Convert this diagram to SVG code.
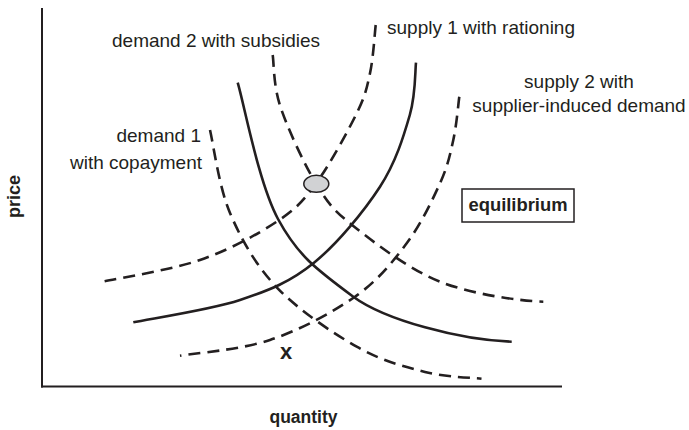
<svg xmlns="http://www.w3.org/2000/svg" width="689" height="430" viewBox="0 0 689 430">
<style>
.axis{stroke:#231f20;stroke-width:2;fill:none}
.curve{stroke:#231f20;stroke-width:2.6;fill:none;stroke-linecap:butt}
.dash{stroke-dasharray:12 7}
.lbl{font-family:"Liberation Sans",Arial,sans-serif;font-size:19px;fill:#231f20}
.bold{font-family:"Liberation Sans",Arial,sans-serif;font-weight:bold;fill:#231f20}
</style>
<rect width="689" height="430" fill="#ffffff"/>
<g id="axes">
<line class="axis" x1="42" y1="8" x2="42" y2="387.5"/>
<line class="axis" x1="41" y1="386.5" x2="562" y2="386.5"/>
<text class="bold" font-size="18" transform="translate(20,196.5) rotate(-90)" text-anchor="middle">price</text>
<text class="bold" font-size="17.5" x="303.5" y="423" text-anchor="middle">quantity</text>
</g>
<g id="curves">
<g id="demand1">
<path class="curve dash" d="M210,130 C213.3,143.8 218.9,186.8 230,213 C241.1,239.2 255.6,265 276.7,287.3 C297.8,309.6 332,332.6 356.7,346.7 C381.4,360.8 404.2,366.7 425,372 C445.8,377.3 472.1,377.6 481.5,378.7"/>
<text class="lbl" x="201" y="142" text-anchor="end">demand 1</text>
<text class="lbl" x="202" y="169" text-anchor="end">with copayment</text>
</g>
<g id="demand">
<path class="curve" d="M237.7,82.7 C244.4,105.4 258.7,183.3 278,219 C297.3,254.7 315.3,268.7 353.3,296.7 C385,320 460,340 511.7,341.7"/>
</g>
<g id="demand2">
<path class="curve dash" d="M272.7,55 C274,63.7 273.3,85.6 280.5,107 C287.7,128.4 303.9,163.7 316,183.5 C328.1,203.3 332.6,209.6 353.3,226 C374,242.4 408.3,269.1 440,281.7 C471.7,294.3 520,301 543.3,301.7"/>
<text class="lbl" x="112" y="47">demand 2 with subsidies</text>
</g>
<g id="supply1">
<path class="curve dash" d="M375.7,25 C374.75,33.05 373.2,58.6 370,73.3 C366.8,88 365.7,94.9 356.7,113.3 C347.7,131.7 329.3,165.4 316,183.5 C302.7,201.6 296,208.95 276.7,221.7 C257.4,234.45 229,250 200,260 C171,270 118.9,278.1 102.7,281.7"/>
<text class="lbl" x="387" y="34">supply 1 with rationing</text>
</g>
<g id="supply">
<path class="curve" d="M416,62.7 C415,71.4 415.8,94.3 409.8,115 C403.8,135.7 396,162.1 380,186.7 C364,211.3 337.3,243.8 314,262.7 C290.7,281.6 270.1,290.1 240,300 C209.9,309.9 151.1,318.6 133.3,322.3"/>
</g>
<g id="supply2">
<path class="curve dash" d="M459.3,96.7 C458.3,103.9 456.5,125.6 453.3,140 C450.1,154.4 447.8,166.1 440,183.3 C432.2,200.5 420.9,224.4 406.7,243.3 C392.5,262.2 377.8,280.6 355,296.7 C332.2,312.8 299.2,330.2 270,340 C240.8,349.8 195,353.1 180,355.7"/>
<text class="lbl" x="579" y="88" text-anchor="middle">supply 2 with</text>
<text class="lbl" x="579" y="112" text-anchor="middle">supplier-induced demand</text>
</g>
</g>
<g id="equilibrium-point">
<ellipse cx="316.3" cy="183.8" rx="12.5" ry="8.5" fill="#d1d2d4" stroke="#231f20" stroke-width="1.5"/>
</g>
<g id="equilibrium-label">
<rect x="462" y="189" width="112" height="33" fill="#ffffff" stroke="#231f20" stroke-width="1.5"/>
<text class="bold" font-size="18.4" x="518" y="211" text-anchor="middle">equilibrium</text>
</g>
<g id="x-label">
<text class="bold" font-size="22" x="280" y="359">x</text>
</g>
</svg>
